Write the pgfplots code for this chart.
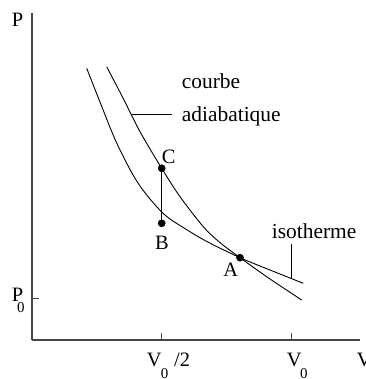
\documentclass[border=0pt]{standalone}
\usepackage{pgfplots}
\pgfplotsset{compat=1.18}
\usepackage{fontspec}
\setmainfont{Liberation Serif}

\newcommand{\lab}{\fontsize{20.5}{24}\selectfont}
\newcommand{\subl}{\fontsize{15}{18}\selectfont}
\newcommand{\txt}{\fontsize{21.5}{25}\selectfont}

\begin{document}
\begin{tikzpicture}
\begin{axis}[
  x=259.7bp, y=42bp,
  xmin=0, xmax=1.263, ymin=0, ymax=7.786,
  enlargelimits=false,
  axis lines=left,
  axis line style={-, line width=1.2bp, draw=black!72},
  xtick={0.5,1}, ytick={1},
  xticklabels={}, yticklabels={},
  tick align=inside,
  major tick length=7bp,
  tick style={line width=0.8bp, black!72},
  clip=false,
]
% isotherme
\addplot[black, line width=0.9bp, smooth, tension=0.55] coordinates {
  (0.2106,6.469) (0.2618,5.667) (0.3196,4.779)
  (0.3774,4.060) (0.4159,3.667) (0.4544,3.357) (0.4994,3.048)
  (0.5314,2.881) (0.5699,2.726) (0.6662,2.369) (0.8009,1.960)
  (0.9164,1.667) (1.0447,1.350)
};
% courbe adiabatique
\addplot[black, line width=0.9bp, smooth, tension=0.5] coordinates {
  (0.2876,6.507) (0.3504,5.762) (0.4159,4.960) (0.4994,4.088)
  (0.5699,3.412) (0.6596,2.698) (0.7239,2.319) (0.8009,1.960)
  (0.9037,1.507) (1.0385,0.952)
};
% segment C--B
\addplot[black, line width=0.9bp] coordinates {(0.4994,4.088) (0.4994,2.779)};
% points A, B, C
\addplot[only marks, mark=*, mark size=3.6bp, black] coordinates {
  (0.8009,1.960) (0.4994,2.779) (0.4994,4.088)
};
% leaders
\draw[black, line width=0.8bp] (0.385,5.369) -- (0.539,5.369);
\draw[black, line width=0.8bp] (0.9973,2.286) -- (0.9973,1.469);

% labels
\node[anchor=base west, inner sep=0] at (-0.0782,7.476) {\lab P};
\node[anchor=base west, inner sep=0] at (-0.0782,0.912) {\lab P};
\node[anchor=base west, inner sep=0] at (-0.0578,0.643) {\subl 0};
\node[anchor=base west, inner sep=0] at (0.4416,-0.636) {\lab V};
\node[anchor=base west, inner sep=0] at (0.4956,-0.905) {\subl 0};
\node[anchor=base west, inner sep=0] at (0.5468,-0.636) {\lab /2};
\node[anchor=base west, inner sep=0] at (0.9808,-0.636) {\lab V};
\node[anchor=base west, inner sep=0] at (1.0320,-0.905) {\subl 0};
\node[anchor=base west, inner sep=0] at (1.2503,-0.636) {\lab V};
\node[anchor=base west, inner sep=0] at (0.4994,4.208) {\lab C};
\node[anchor=base west, inner sep=0] at (0.4736,2.143) {\lab B};
\node[anchor=base west, inner sep=0] at (0.7366,1.502) {\lab A};
\node[anchor=base west, inner sep=0] at (0.5764,5.993) {\txt courbe};
\node[anchor=base west, inner sep=0] at (0.5764,5.214) {\txt adiabatique};
\node[anchor=base west, inner sep=0] at (0.9230,2.421) {\txt isotherme};

\coordinate (sw) at (-0.12322,-0.92857);
\coordinate (ne) at (1.28610,8.09524);
\end{axis}
\pgfresetboundingbox
\path[use as bounding box] (sw) rectangle (ne);
\end{tikzpicture}
\end{document}
